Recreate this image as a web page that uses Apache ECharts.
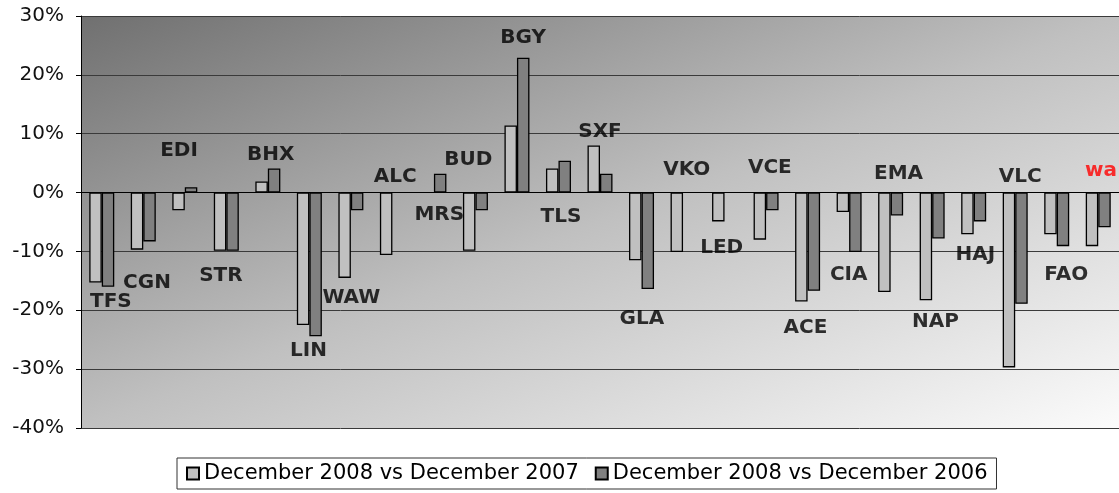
<!DOCTYPE html>
<html>
<head>
<meta charset="utf-8">
<script src="https://cdn.jsdelivr.net/npm/echarts@6/dist/echarts.min.js"></script>
<style>
html,body{margin:0;padding:0;background:#fff;overflow:hidden;}
#chart{width:1119px;height:493px;}
</style>
</head>
<body>
<div id="chart"></div>
<script>
// Airport codes (categories)
const categories = ['TFS','CGN','EDI','STR','BHX','LIN','WAW','ALC','MRS','BUD','BGY','TLS','SXF','GLA','VKO','LED','VCE','ACE','CIA','EMA','NAP','HAJ','VLC','FAO','wa'];
// December 2008 vs December 2007 (%)
const vs2007 = [-15.3,-9.7,-3.0,-9.9,1.9,-22.5,-14.5,-10.6,null,-9.9,11.4,4.1,8.0,-11.5,-10.1,-4.9,-8.0,-18.5,-3.3,-16.9,-18.3,-7.1,-29.7,-7.1,-9.1];
// December 2008 vs December 2006 (%)
const vs2006 = [-16.0,-8.3,0.9,-9.9,4.1,-24.4,-3.0,null,3.2,-3.0,22.9,5.4,3.2,-16.4,null,null,-3.0,-16.7,-10.1,-3.9,-7.8,-4.9,-18.9,-9.1,-5.9];
const seriesNames = ['December 2008 vs December 2007','December 2008 vs December 2006'];
// Annotation anchors for the airport code labels (x in category units from the left edge, y in %)
const labelX = [0.72,1.59,2.36,3.37,4.57,5.48,6.51,7.57,8.63,9.33,10.65,11.56,12.5,13.51,14.59,15.43,16.59,17.45,18.49,19.69,20.58,21.54,22.62,23.73,24.18];
const labelY = [-18.6,-15.3,7.1,-14.1,6.4,-26.9,-17.8,2.7,-3.7,5.6,26.3,-4.1,10.3,-21.5,3.9,-9.3,4.2,-22.9,-13.9,3.2,-21.9,-10.5,2.7,-13.9,3.7];
const yMin = -40, yMax = 30, yStep = 10;

const chart = echarts.init(document.getElementById('chart'), null, {renderer:'canvas'});

const labelData = categories.map((c,i)=>{
  const d = {value:[labelX[i], labelY[i], c]};
  if (c === 'wa') d.label = {color:'#ff0000', align:'left'};
  return d;
});

const option = {
  animation:false,
  textStyle:{fontFamily:'DejaVu Sans'},
  grid:{
    left:81, top:16, width:1040, height:412,
    show:true, borderWidth:0,
    backgroundColor:new echarts.graphic.LinearGradient(0,0,0.272,1.727,[
      {offset:0,color:'#707070'},
      {offset:0.5,color:'#c0c0c0'},
      {offset:1,color:'#fbfbfb'}
    ])
  },
  legend:{
    left:177, top:458,
    data:seriesNames,
    backgroundColor:'#ffffff',
    borderColor:'#333333', borderWidth:1, borderRadius:0,
    padding:[5,9,5,9],
    itemWidth:12, itemHeight:12, itemGap:16,
    icon:'rect',
    textStyle:{fontFamily:'DejaVu Sans', fontSize:21, color:'#000'}
  },
  xAxis:[{
    type:'category', data:categories, boundaryGap:true,
    axisLine:{show:true, onZero:true, lineStyle:{color:'#000', width:1}},
    axisTick:{show:false}, axisLabel:{show:false}, splitLine:{show:false}
  },{
    type:'value', min:0, max:categories.length, show:false
  }],
  yAxis:{
    type:'value', min:yMin, max:yMax, interval:yStep,
    axisLine:{show:true, lineStyle:{color:'#000', width:1}},
    axisTick:{show:true, length:5, inside:false, lineStyle:{color:'#000'}},
    axisLabel:{formatter:'{value}%', fontSize:20, color:'#111', margin:17, fontFamily:'DejaVu Sans'},
    splitLine:{show:true, lineStyle:{color:'#3a3a3a', width:1}}
  },
  series:[{
    name:seriesNames[0], type:'bar', data:vs2007,
    barWidth:12.5, barGap:'0%',
    itemStyle:{color:'#c0c0c0', borderColor:'#000', borderWidth:1.3}
  },{
    name:seriesNames[1], type:'bar', data:vs2006,
    barWidth:12.5, barGap:'0%',
    itemStyle:{color:'#808080', borderColor:'#000', borderWidth:1.3}
  },{
    type:'scatter', xAxisIndex:1, yAxisIndex:0, silent:true,
    symbolSize:1, itemStyle:{color:'rgba(0,0,0,0)'},
    data:labelData, z:5,
    label:{show:true, position:'inside', formatter:p=>p.value[2],
      fontFamily:'DejaVu Sans', fontWeight:'bold', fontSize:20, color:'#000'}
  }]
};
chart.setOption(option);
</script>
</body>
</html>
